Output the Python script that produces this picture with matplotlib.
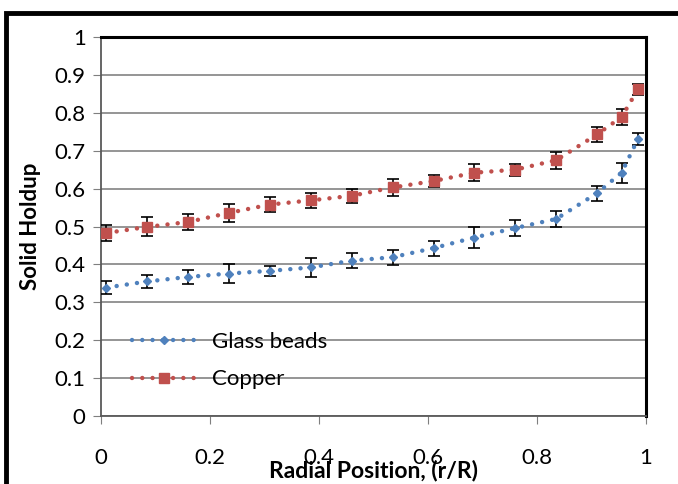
import matplotlib.pyplot as plt
from matplotlib.patches import Rectangle

# radial positions (r/R)
r_pos = [0.01, 0.085, 0.16, 0.235, 0.31, 0.385, 0.46, 0.535, 0.61, 0.685, 0.76, 0.835, 0.91, 0.955, 0.985]

# glass beads holdup and error
glass = [0.339, 0.355, 0.367, 0.376, 0.383, 0.392, 0.410, 0.419, 0.443, 0.471, 0.496, 0.520, 0.588, 0.642, 0.731]
glass_err = [0.016, 0.016, 0.019, 0.024, 0.014, 0.024, 0.020, 0.020, 0.020, 0.027, 0.020, 0.020, 0.020, 0.026, 0.016]

# copper holdup and error
copper = [0.483, 0.499, 0.512, 0.536, 0.558, 0.569, 0.581, 0.603, 0.620, 0.642, 0.650, 0.675, 0.743, 0.789, 0.862]
copper_err = [0.020, 0.025, 0.022, 0.024, 0.020, 0.020, 0.018, 0.022, 0.015, 0.022, 0.016, 0.022, 0.020, 0.022, 0.014]

plt.rcParams['font.family'] = ['Lato', 'DejaVu Sans']

fig = plt.figure(figsize=(6.78, 4.84), dpi=100)
ax = fig.add_axes([0.149, 0.1405, 0.804, 0.783])

blue = '#4F81BD'
red = '#C0504D'
dots = (0, (0.01, 2.3))

ax.errorbar(r_pos, glass, yerr=glass_err, fmt='none', ecolor='black', elinewidth=1.2, capsize=4, capthick=1.2, zorder=3)
ax.errorbar(r_pos, copper, yerr=copper_err, fmt='none', ecolor='black', elinewidth=1.2, capsize=4, capthick=1.2, zorder=3)
ax.plot(r_pos, glass, linestyle=dots, color=blue, lw=3.2, dash_capstyle='round',
        marker='D', markersize=4.5, markerfacecolor=blue, markeredgecolor=blue, label='Glass beads', zorder=4)
ax.plot(r_pos, copper, linestyle=dots, color=red, lw=3.2, dash_capstyle='round',
        marker='s', markersize=7, markerfacecolor=red, markeredgecolor=red, label='Copper', zorder=4)

ax.set_xlim(0, 1)
ax.set_ylim(0, 1)
ax.set_xticks([0, 0.2, 0.4, 0.6, 0.8, 1])
ax.set_xticklabels(['0', '0.2', '0.4', '0.6', '0.8', '1'])
ax.set_yticks([i / 10 for i in range(11)])
ax.set_yticklabels(['0', '0.1', '0.2', '0.3', '0.4', '0.5', '0.6', '0.7', '0.8', '0.9', '1'])
ax.yaxis.grid(True, color='#8c8c8c', lw=1.3)
ax.set_axisbelow(True)
ax.tick_params(axis='both', labelsize=16, length=6, color='#7f7f7f', direction='out')
ax.tick_params(axis='x', pad=17)
ax.tick_params(axis='y', pad=5)

for side in ['top', 'right']:
    ax.spines[side].set_color('black')
    ax.spines[side].set_linewidth(2.2)
for side in ['left', 'bottom']:
    ax.spines[side].set_color('#595959')
    ax.spines[side].set_linewidth(1.3)

ax.set_xlabel('Radial Position, (r/R)', fontsize=16.5, fontweight='bold', labelpad=-6)
ax.set_ylabel('Solid Holdup', fontsize=16, fontweight='bold', labelpad=10)

ax.legend(loc='lower left', bbox_to_anchor=(0.057, 0.07), frameon=False, fontsize=16,
          handlelength=2.85, labelspacing=0.8, handletextpad=0.75, borderpad=0, borderaxespad=0)

# outer chart border
fig.patches.append(Rectangle((6 / 678, -0.05), 1.1, 1 - 13 / 484 + 0.05, transform=fig.transFigure,
                             fill=False, edgecolor='black', lw=3.5, clip_on=False))

fig.savefig('out.png', dpi=100)
